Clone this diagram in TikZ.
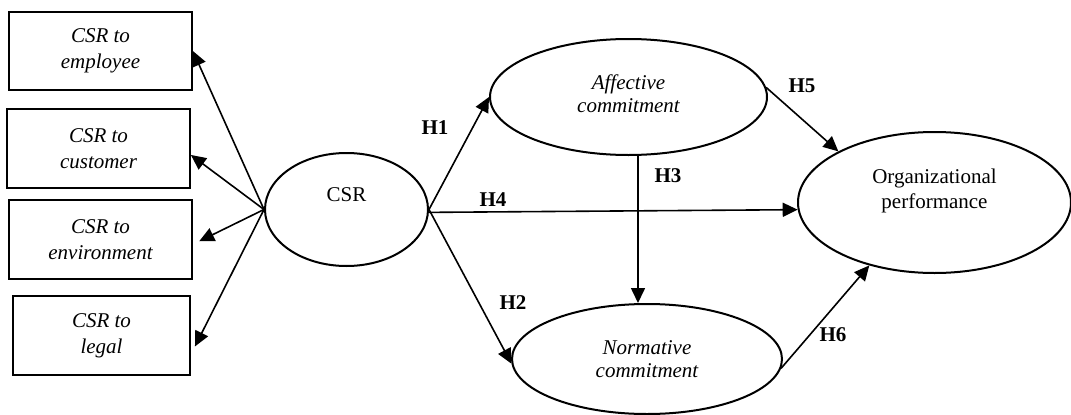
\documentclass[tikz,border=0pt]{standalone}
\usepackage{fontspec}
\setmainfont{Liberation Serif}
\usetikzlibrary{shapes.geometric,arrows.meta,calc}
\begin{document}
\begin{tikzpicture}[x=1pt,y=-1pt,
  every node/.style={font=\fontsize{21}{24}\selectfont},
  box/.style={draw, line width=1.8pt, inner sep=0pt, align=center,
              font=\fontsize{21}{26}\selectfont\itshape},
  ell/.style={draw, ellipse, line width=2pt, inner sep=0pt},
  itl/.style={font=\fontsize{21}{23}\selectfont\itshape, align=center},
  rml/.style={font=\fontsize{21}{25}\selectfont, align=center},
  arr/.style={line width=1.6pt, -{Triangle[length=15pt,width=14pt]}},
  hyp/.style={font=\fontsize{21}{24}\selectfont\bfseries}]
\useasboundingbox (0,0) rectangle (1071,415);

% boxes
\node[box, minimum width=183pt, minimum height=78pt] (b1) at (100.5,51) {CSR to\\employee};
\node[box, minimum width=183pt, minimum height=79pt] (b2) at (98.5,148.5) {CSR to\\customer};
\node[box, minimum width=183pt, minimum height=79pt] (b3) at (100.5,239.5) {CSR to\\environment};
\node[box, minimum width=177pt, minimum height=79pt] (b4) at (101.5,335.5) {CSR to\\legal};

% ellipses
\node[ell, minimum width=163pt, minimum height=113pt,
      label={[rml, yshift=14.5pt]center:CSR}] (csr) at (346.5,209.5) {};
\node[ell, minimum width=277pt, minimum height=116pt,
      label={[itl, yshift=3.5pt]center:Affective\\commitment}] (aff) at (628.5,97) {};
\node[ell, minimum width=270pt, minimum height=110pt,
      label={[itl]center:Normative\\commitment}] (norm) at (647,359) {};
\node[ell, minimum width=273pt, minimum height=141pt,
      label={[rml, yshift=12pt]center:Organizational\\performance}] (org) at (934.5,202.5) {};

% CSR dimensions
\draw[arr] (csr.west) -- (b1.east);
\draw[arr] (csr.west) -- (b2.-4);
\draw[arr, shorten >=7pt] (csr.west) -- (b3.-3.4);
\draw[arr, shorten >=9pt] (csr.west) -- (b4.-12.9);

% hypotheses
\coordinate (h3s) at ($(aff.south)+(9.5,0)$);
\coordinate (h3e) at (h3s |- norm.north);
\draw[arr] (csr.east) -- (aff.west);
\draw[arr] (csr.-2) -- (org.183);
\draw[arr] (csr.east) -- (norm.182);
\draw[arr] (h3s) -- (h3e);
\draw[arr] (aff.4) -- (org.152);
\draw[arr] (norm.-4) -- (org.224);

% labels
\node[hyp] (h1) at (435,128) {H1};
\node[hyp] (h2) at (513,303) {H2};
\node[hyp] (h3) at (668,176) {H3};
\node[hyp] (h4) at (493,200) {H4};
\node[hyp] (h5) at (802,86) {H5};
\node[hyp] (h6) at (833,335) {H6};
\end{tikzpicture}
\end{document}
